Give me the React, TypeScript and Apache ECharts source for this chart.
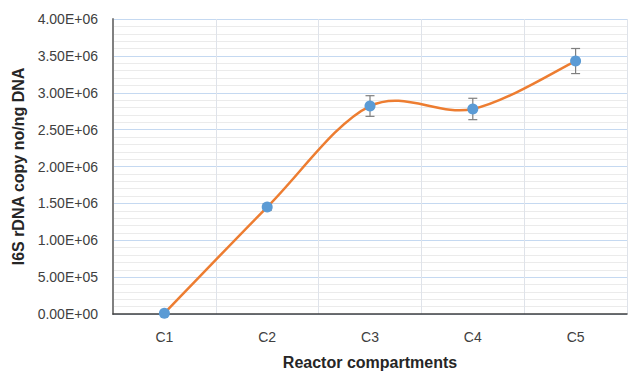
import React, { useEffect, useRef } from "react";
import * as echarts from "echarts";

const categories = ["C1", "C2", "C3", "C4", "C5"];
const values = [10000, 1450000, 2820000, 2780000, 3430000];
const errors = [0, 45000, 140000, 145000, 170000];

function fmt(v: number): string {
  const [m, e] = v.toExponential(2).split("e");
  const n = parseInt(e, 10);
  const sign = n < 0 ? "-" : "+";
  const abs = Math.abs(n);
  return m.toUpperCase() + "E" + sign + (abs < 10 ? "0" + abs : String(abs));
}

export default function App() {
  const ref = useRef<HTMLDivElement>(null);
  useEffect(() => {
    if (!ref.current) return;
    const chart = echarts.init(ref.current, undefined, { renderer: "svg" });
    const font = "'Liberation Sans', Arial, sans-serif";
    chart.setOption({
      animation: false,
      backgroundColor: "#ffffff",
      grid: { left: 113, right: 1, top: 19, bottom: 58, containLabel: false, outerBoundsMode: "none" },
      xAxis: {
        type: "category",
        data: categories,
        boundaryGap: true,
        name: "Reactor compartments",
        nameLocation: "middle",
        nameGap: 40,
        nameTextStyle: { fontFamily: font, fontSize: 16, fontWeight: "bold", color: "#262626" },
        axisLine: { show: true, lineStyle: { color: "#404040", width: 1.5 } },
        axisTick: { show: false },
        axisLabel: { fontFamily: font, fontSize: 14, color: "#404040", margin: 16 },
        splitLine: { show: true, lineStyle: { color: "#dfe3ea", width: 1 } },
      },
      yAxis: {
        type: "value",
        min: 0,
        max: 4000000,
        interval: 500000,
        name: "I6S rDNA copy no/ng DNA",
        nameLocation: "middle",
        nameGap: 86,
        nameTextStyle: { fontFamily: font, fontSize: 16, fontWeight: "bold", color: "#262626" },
        axisLine: { show: true, lineStyle: { color: "#808080", width: 2 } },
        axisTick: { show: false },
        axisLabel: { fontFamily: font, fontSize: 14, color: "#404040", margin: 15, formatter: (v: number) => fmt(v) },
        splitLine: { show: true, lineStyle: { color: "#c5d9f1", width: 1.2 } },
        minorTick: { show: false, splitNumber: 5 },
        minorSplitLine: { show: true, lineStyle: { color: "#ebebeb", width: 1 } },
      },
      series: [
        {
          type: "custom",
          z: 1,
          data: values.map((v, i) => [i, v, errors[i]]),
          renderItem: (params: any, api: any) => {
            const i = api.value(0);
            const v = api.value(1);
            const e = api.value(2);
            if (!e) return { type: "group", children: [] };
            const top = api.coord([i, v + e]);
            const bot = api.coord([i, v - e]);
            const cap = 4.5;
            const style = { stroke: "#7f7f7f", lineWidth: 1.2 };
            return {
              type: "group",
              children: [
                { type: "line", shape: { x1: top[0], y1: top[1], x2: bot[0], y2: bot[1] }, style },
                { type: "line", shape: { x1: top[0] - cap, y1: top[1], x2: top[0] + cap, y2: top[1] }, style },
                { type: "line", shape: { x1: bot[0] - cap, y1: bot[1], x2: bot[0] + cap, y2: bot[1] }, style },
              ],
            };
          },
        },
        {
          type: "custom",
          z: 2,
          data: values.map((v, i) => [i, v]),
          renderItem: (params: any, api: any) => {
            const i = params.dataIndex;
            const n = values.length;
            if (i >= n - 1) return { type: "group", children: [] };
            const pt = (j: number) => {
              const k = Math.max(0, Math.min(n - 1, j));
              return api.coord([k, values[k]]);
            };
            const p0 = pt(i - 1);
            const p1 = pt(i);
            const p2 = pt(i + 1);
            const p3 = pt(i + 2);
            const t = 1 / 6;
            return {
              type: "bezierCurve",
              shape: {
                x1: p1[0],
                y1: p1[1],
                cpx1: p1[0] + (p2[0] - p0[0]) * t,
                cpy1: p1[1] + (p2[1] - p0[1]) * t,
                cpx2: p2[0] - (p3[0] - p1[0]) * t,
                cpy2: p2[1] - (p3[1] - p1[1]) * t,
                x2: p2[0],
                y2: p2[1],
              },
              style: { stroke: "#ed7d31", lineWidth: 2.5, fill: "none" },
            };
          },
        },
        {
          type: "scatter",
          z: 3,
          data: values,
          symbol: "circle",
          symbolSize: 11,
          itemStyle: { color: "#5b9bd5", opacity: 1 },
        },
      ],
    });
    return () => chart.dispose();
  }, []);
  return <div ref={ref} style={{ width: 628, height: 372, position: "absolute", left: 0, top: 0 }} />;
}
